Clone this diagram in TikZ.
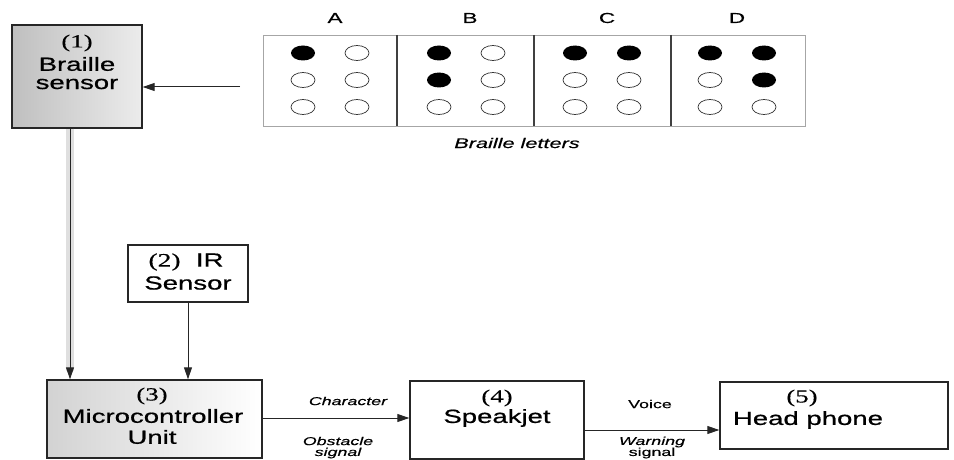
\documentclass[tikz,border=0pt]{standalone}
\usepackage{fontspec}
\setmainfont{Liberation Sans}
\newfontfamily\bx[FakeStretch=1.45,FakeBold=0.7]{Liberation Sans}
\newfontfamily\sm[FakeStretch=1.55,FakeBold=0.4]{Liberation Sans}
\newfontfamily\nm[FakeStretch=1.45,FakeBold=0.5]{Liberation Serif}
\usetikzlibrary{arrows.meta}
\begin{document}
\begin{tikzpicture}[x=1pt,y=-1pt,
  blk/.style={draw=black!85,line width=1.4pt,inner sep=0pt},
  arr/.style={draw=black!85,line width=1pt,-{Triangle[length=12pt,width=8pt]}},
  big/.style={inner sep=0pt,font=\bx\fontsize{19}{21}\selectfont},
  num/.style={inner sep=0pt,font=\nm\fontsize{18.5}{20}\selectfont},
  lab/.style={inner sep=0pt,font=\sm\itshape\fontsize{11.5}{13}\selectfont},
  labu/.style={inner sep=0pt,font=\sm\fontsize{11.5}{13}\selectfont},
  let/.style={inner sep=0pt,font=\sm\fontsize{14.5}{16}\selectfont},
  fdot/.style={fill=black},
  odot/.style={draw=black!80,line width=0.7pt,fill=white}]
\useasboundingbox (0,0) rectangle (954,460);

% blocks
\node[blk,minimum width=130pt,minimum height=103pt,left color=gray!50,right color=gray!15] (b1) at (77,76.5) {};
\node[blk,minimum width=120pt,minimum height=57pt] (b2) at (188,273.5) {};
\node[blk,minimum width=215pt,minimum height=78pt,left color=gray!35,right color=white] (b3) at (154.5,419) {};
\node[blk,minimum width=174pt,minimum height=78pt] (b4) at (497,420) {};
\node[blk,minimum width=228pt,minimum height=67pt] (b5) at (834,415.5) {};

% block texts
\node[num] (t1a) at (77,43) {(1)};
\node[big] (t1b) at (77,64) {Braille};
\node[big] (t1c) at (77,84) {sensor};
\node[big] (t2a) at (186,262) {{\nm(2)}\ \ IR};
\node[big] (t2b) at (188,283) {Sensor};
\node[num] (t3a) at (152,396) {(3)};
\node[big] (t3b) at (153,416) {Microcontroller};
\node[big] (t3c) at (152,437) {Unit};
\node[num] (t4a) at (497,398) {(4)};
\node[big] (t4b) at (497,418) {Speakjet};
\node[num] (t5a) at (802,398) {(5)};
\node[big] (t5b) at (808,420) {Head phone};

% connector labels
\node[lab] (l1) at (348,401) {Character};
\node[lab] (l2) at (338,441) {Obstacle};
\node[lab] (l3) at (338,453) {signal};
\node[labu] (l4) at (650,404) {Voice};
\node[lab] (l5) at (652,442) {Warning};
\node[labu] (l6) at (652,453) {signal};

% braille panel
\draw[gray!70,line width=0.6pt] (263,35) rectangle (805,126);
\foreach \x in {397,534,671}{\draw[black!75,line width=1.2pt] (\x,35) -- (\x,126);}
\node[let] (la) at (335,18) {A};
\node[let] (lb) at (470,18) {B};
\node[let] (lc) at (607,18) {C};
\node[let] (ld) at (737,18) {D};
\node[inner sep=0pt,font=\sm\itshape\fontsize{14}{16}\selectfont] (cap) at (517,143) {Braille letters};
\def\dotE#1#2#3{\path[#3] (#1,#2) ellipse [x radius=12pt,y radius=7.5pt];}
% A
\dotE{303}{53}{fdot}\dotE{357}{53}{odot}
\dotE{303}{80}{odot}\dotE{357}{80}{odot}
\dotE{303}{107}{odot}\dotE{357}{107}{odot}
% B
\dotE{439}{53}{fdot}\dotE{493}{53}{odot}
\dotE{439}{80}{fdot}\dotE{493}{80}{odot}
\dotE{439}{107}{odot}\dotE{493}{107}{odot}
% C
\dotE{575}{53}{fdot}\dotE{629}{53}{fdot}
\dotE{575}{80}{odot}\dotE{629}{80}{odot}
\dotE{575}{107}{odot}\dotE{629}{107}{odot}
% D
\dotE{710}{53}{fdot}\dotE{764}{53}{fdot}
\dotE{710}{80}{odot}\dotE{764}{80}{fdot}
\dotE{710}{107}{odot}\dotE{764}{107}{odot}

% connectors
\coordinate (src) at (240,87);
\coordinate (vx) at (70,0);
\draw[arr] (src) -- (src -| b1.east);
\draw[gray!25,line width=8pt] (b1.south -| vx) -- ([yshift=8pt]b3.north -| vx);
\draw[arr] (b1.south -| vx) -- (b3.north -| vx);
\draw[arr] (b2.south) -- (b2.south |- b3.north);
\draw[arr] ([yshift=1pt]b3.east) -- ([yshift=1pt]b3.east -| b4.west);
\draw[arr] ([yshift=-10pt]b4.east) -- ([yshift=-10pt]b4.east -| b5.west);
\end{tikzpicture}
\end{document}
